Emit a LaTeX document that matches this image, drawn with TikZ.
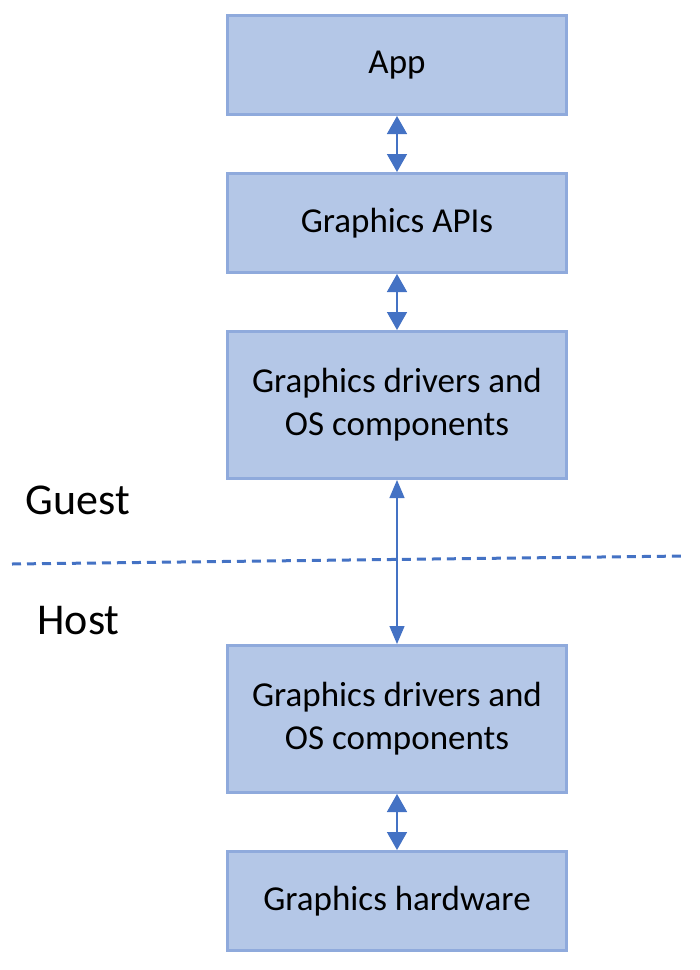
\documentclass[tikz,border=0pt]{standalone}
\usepackage{fontspec}
\setmainfont{Carlito}
\usetikzlibrary{arrows.meta,positioning}
\definecolor{boxfill}{HTML}{B4C7E7}
\definecolor{boxborder}{HTML}{8FAADC}
\definecolor{linkblue}{HTML}{4472C4}
\begin{document}
\begin{tikzpicture}[x=1pt,y=1pt]
\tikzstyle{layer}=[rectangle, draw=boxborder, fill=boxfill, line width=3pt,
minimum width=339pt, minimum height=99pt, node distance=182pt,
align=center, font=\fontsize{35}{43}\selectfont]
\tikzstyle{tall}=[minimum height=147pt]
\tikzstyle{side}=[anchor=west, font=\fontsize{44}{50}\selectfont]
\tikzstyle{link}=[color=linkblue, line width=1.6pt, >={Triangle[width=20pt,length=18pt]}, <->]
\tikzstyle{longlink}=[color=linkblue, line width=1.3pt, >={Triangle[width=15pt,length=18pt]}, <->]
\useasboundingbox (0,0) rectangle (700,-970);

\node[layer] at (397,-65) (app) {App};
\node[layer,below of =app,yshift=24pt] (apis) {Graphics APIs};
\node[layer,tall,below of =apis] (gdrv) {Graphics drivers and\\OS components};
\node[layer,tall,below of =gdrv,yshift=-132pt] (hdrv) {Graphics drivers and\\OS components};
\node[layer,below of =hdrv] (hw) {Graphics hardware};

\node[side] at (22,-500) (guest) {Guest};
\node[side] at (34,-621) (host) {Host};

% guest / host boundary
\coordinate (sepl) at (12,-564);
\coordinate (sepr) at (685,-556);
\draw[linkblue, line width=3pt, dash pattern=on 9pt off 6pt] (sepl) -- (sepr);

\path[link] (app) edge (apis) ;
\path[link] (apis) edge (gdrv) ;
\path[longlink] (gdrv) edge (hdrv) ;
\path[link] (hdrv) edge (hw) ;

\end{tikzpicture}
\end{document}
